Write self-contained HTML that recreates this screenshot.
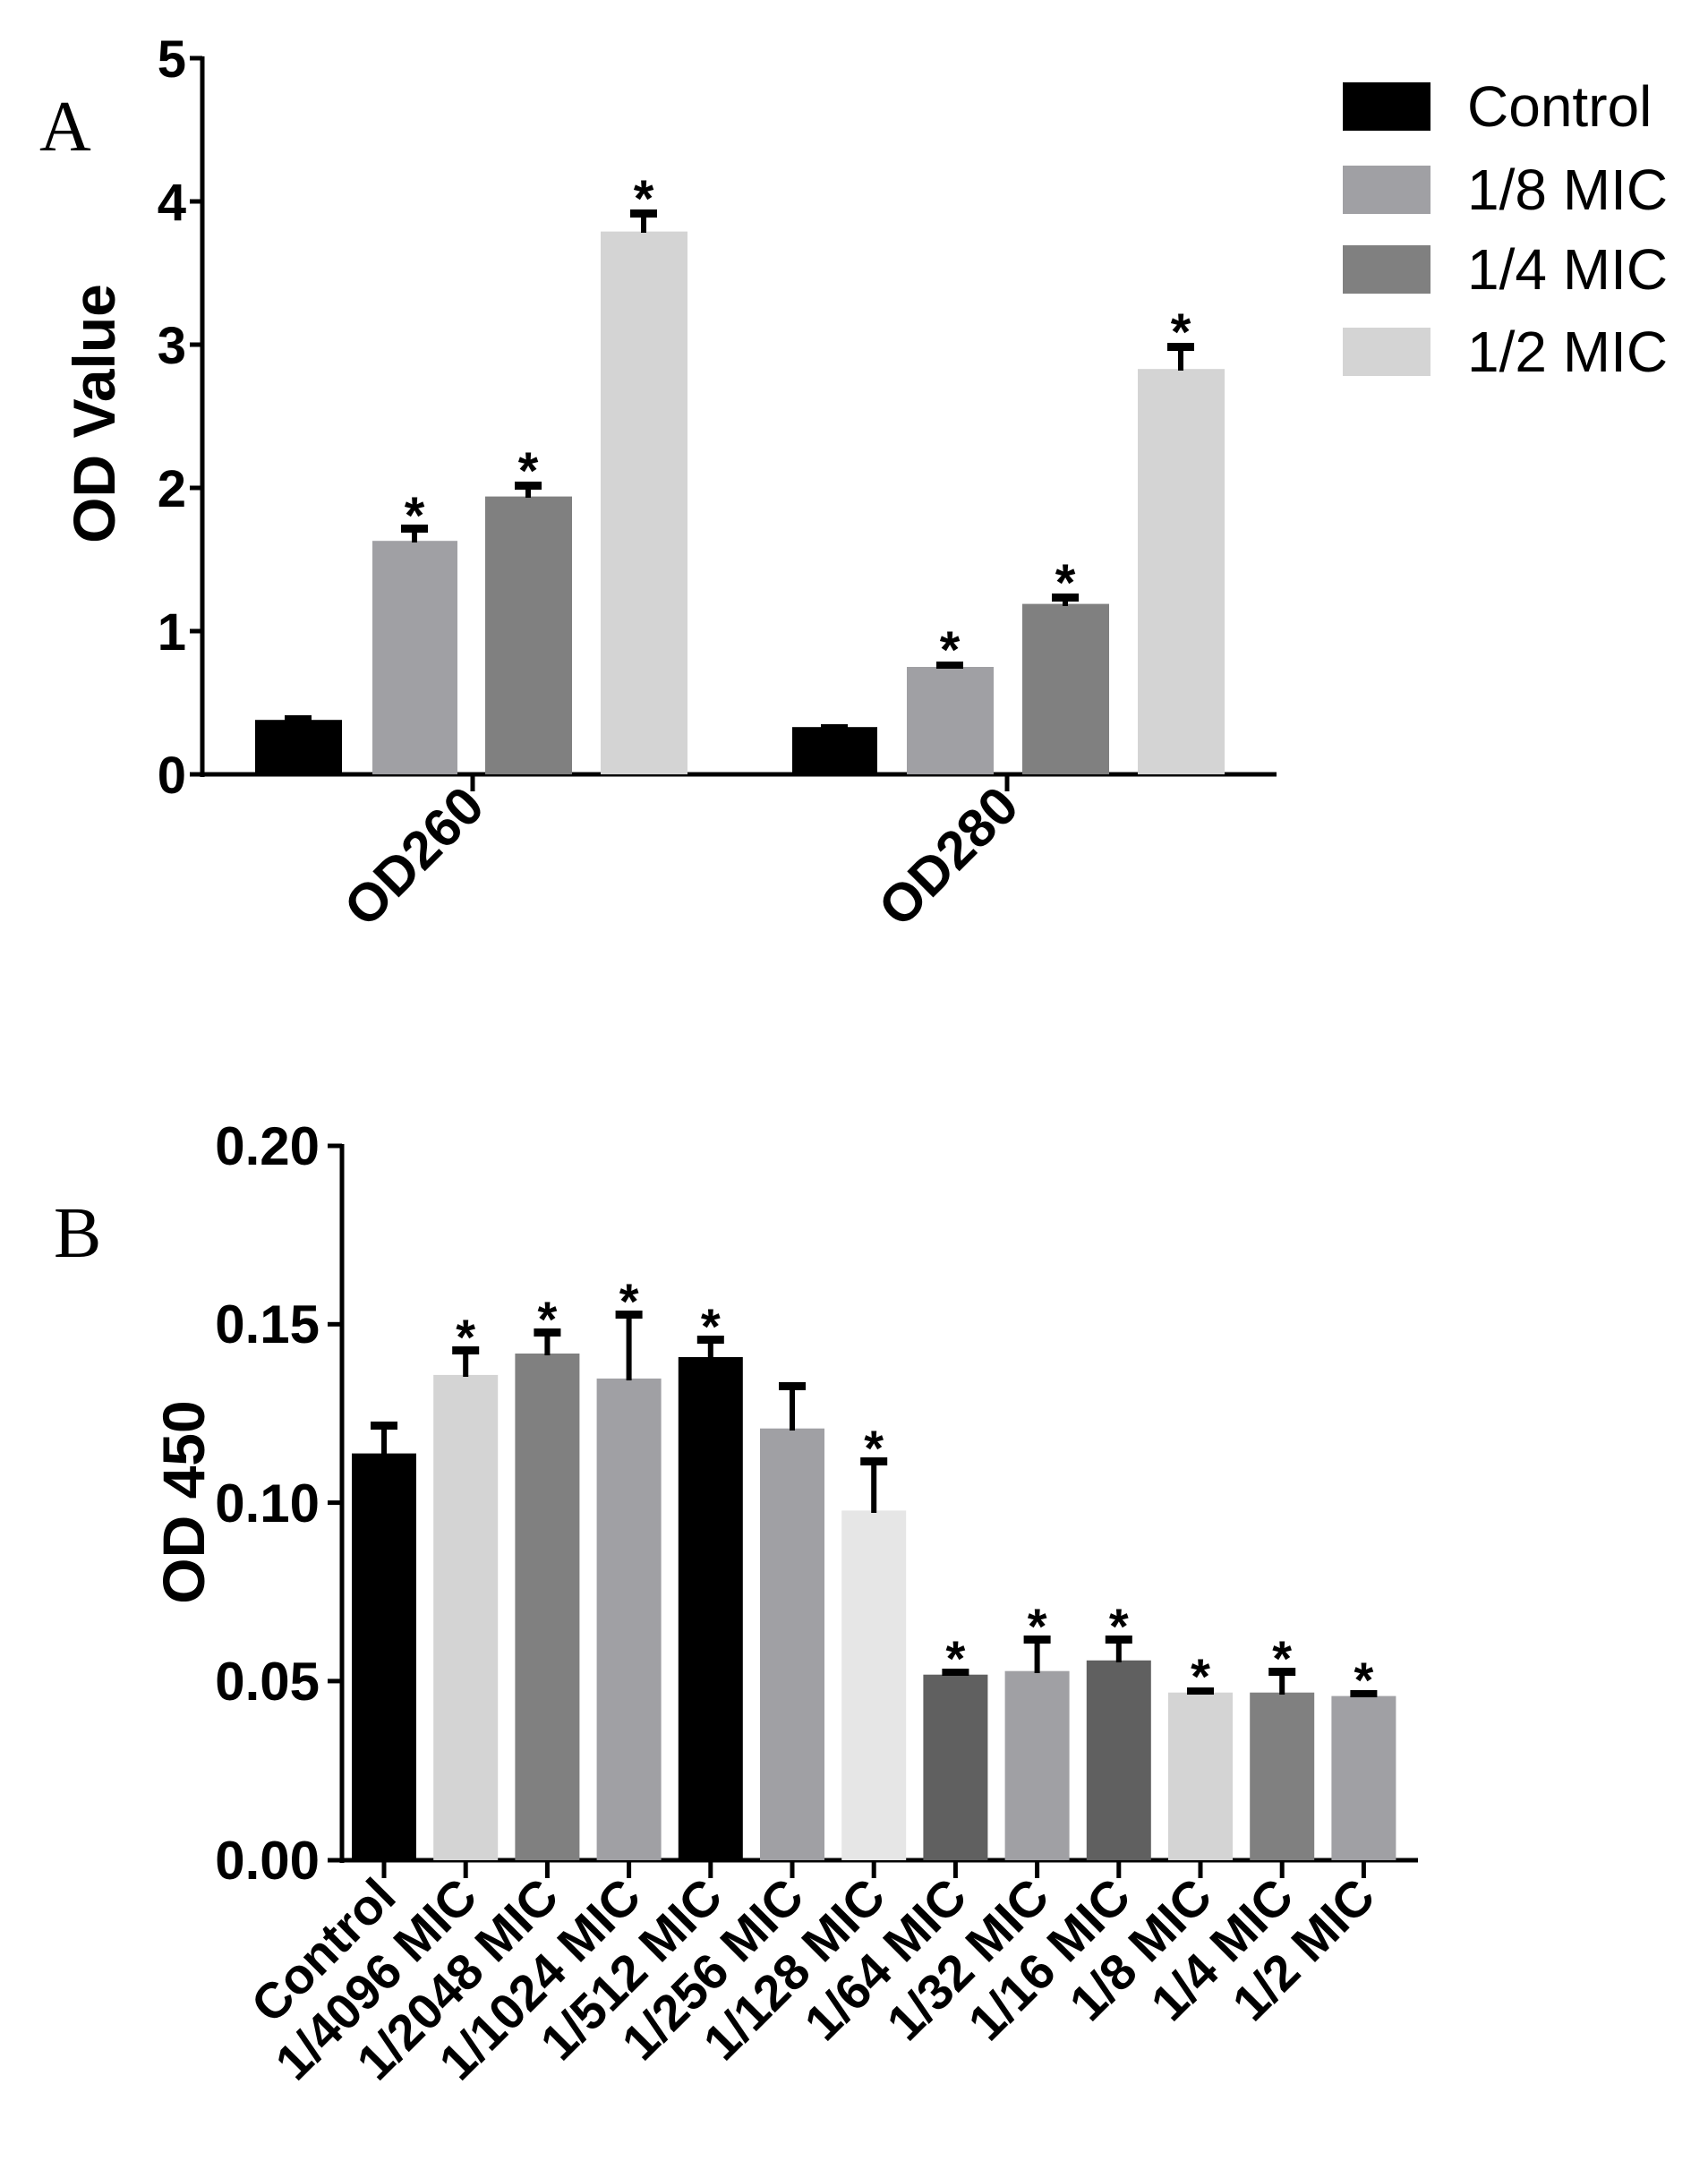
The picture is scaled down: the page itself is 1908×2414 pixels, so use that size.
<!DOCTYPE html>
<html><head><meta charset="utf-8"><style>
html,body{margin:0;padding:0;background:#fff;}
svg{display:block;}
text{font-family:"Liberation Sans",Arial,sans-serif;}
.b{font-weight:bold;}
</style></head><body>
<svg width="1908" height="2414" viewBox="0 0 1908 2414" xmlns="http://www.w3.org/2000/svg">
<!-- Panel A -->
<text x="44" y="168" font-size="80" style="font-family:'Liberation Serif',serif">A</text>
<text class="b" font-size="66" transform="translate(128,462) rotate(-90)" text-anchor="middle">OD Value</text>
<g class="b" font-size="58" text-anchor="end">
<text x="208" y="86">5</text><text x="208" y="246">4</text><text x="208" y="406">3</text>
<text x="208" y="566">2</text><text x="208" y="726">1</text><text x="208" y="886">0</text>
</g>
<g stroke="#000" stroke-width="5">
<line x1="226" y1="63" x2="226" y2="868"/>
<line x1="224" y1="865" x2="1426" y2="865"/>
<line x1="212" y1="65" x2="226" y2="65"/><line x1="212" y1="225" x2="226" y2="225"/>
<line x1="212" y1="385" x2="226" y2="385"/><line x1="212" y1="545" x2="226" y2="545"/>
<line x1="212" y1="705" x2="226" y2="705"/><line x1="212" y1="865" x2="226" y2="865"/>
<line x1="528" y1="865" x2="528" y2="884"/><line x1="1125" y1="865" x2="1125" y2="884"/>
</g>
<g>
<rect x="285" y="804.2" width="97" height="60.8" fill="#000"/>
<rect x="416" y="604.2" width="95" height="260.8" fill="#a0a0a4"/>
<rect x="542" y="554.6" width="97" height="310.4" fill="#808080"/>
<rect x="671" y="258.6" width="97" height="606.4" fill="#d4d4d4"/>
<rect x="885" y="812.2" width="95" height="52.8" fill="#000"/>
<rect x="1013" y="745" width="97" height="120" fill="#a0a0a4"/>
<rect x="1142" y="674.6" width="97" height="190.4" fill="#808080"/>
<rect x="1271" y="412.2" width="97" height="452.8" fill="#d4d4d4"/>
</g>
<g fill="#000">
<rect x="318" y="799" width="30" height="7"/>
<rect x="460" y="590" width="6" height="16"/><rect x="448" y="586" width="30" height="9"/>
<rect x="587" y="542" width="6" height="14"/><rect x="575" y="538" width="30" height="9"/>
<rect x="716" y="238" width="6" height="22"/><rect x="704" y="234" width="30" height="9"/>
<rect x="917" y="809" width="30" height="5"/>
<rect x="1046" y="739" width="30" height="8"/>
<rect x="1187" y="667" width="6" height="10"/><rect x="1175" y="663" width="30" height="9"/>
<rect x="1316" y="387" width="6" height="27"/><rect x="1304" y="383" width="30" height="9"/>
</g>
<g class="b" font-size="58" text-anchor="middle">
<text x="463" y="596">*</text><text x="590" y="546">*</text><text x="719" y="242">*</text>
<text x="1061" y="746">*</text><text x="1190" y="671">*</text><text x="1319" y="391">*</text>
</g>
<g class="b" font-size="60" text-anchor="end">
<text transform="translate(544,904) rotate(-45)">OD260</text>
<text transform="translate(1141,904) rotate(-45)">OD280</text>
</g>
<!-- legend -->
<rect x="1500" y="92" width="98" height="54" fill="#000"/>
<rect x="1500" y="185" width="98" height="54" fill="#a0a0a4"/>
<rect x="1500" y="274" width="98" height="54" fill="#808080"/>
<rect x="1500" y="366" width="98" height="54" fill="#d4d4d4"/>
<g font-size="64">
<text x="1639" y="141">Control</text><text x="1639" y="234">1/8 MIC</text>
<text x="1639" y="323">1/4 MIC</text><text x="1639" y="415">1/2 MIC</text>
</g>
<!-- Panel B -->
<text x="60" y="1404" font-size="80" style="font-family:'Liberation Serif',serif">B</text>
<text class="b" font-size="66" transform="translate(228,1678) rotate(-90)" text-anchor="middle">OD 450</text>
<g class="b" font-size="60" text-anchor="end">
<text x="357" y="1301">0.20</text><text x="357" y="1500">0.15</text><text x="357" y="1700">0.10</text>
<text x="357" y="1899">0.05</text><text x="357" y="2099">0.00</text>
</g>
<g stroke="#000" stroke-width="5">
<line x1="382" y1="1278" x2="382" y2="2081"/>
<line x1="380" y1="2078" x2="1584" y2="2078"/>
<line x1="366" y1="1280" x2="382" y2="1280"/><line x1="366" y1="1479.3" x2="382" y2="1479.3"/>
<line x1="366" y1="1678.6" x2="382" y2="1678.6"/><line x1="366" y1="1877.9" x2="382" y2="1877.9"/>
<line x1="366" y1="2078" x2="382" y2="2078"/>
<line x1="429" y1="2078" x2="429" y2="2098"/><line x1="520.2" y1="2078" x2="520.2" y2="2098"/>
<line x1="611.4" y1="2078" x2="611.4" y2="2098"/><line x1="702.6" y1="2078" x2="702.6" y2="2098"/>
<line x1="793.8" y1="2078" x2="793.8" y2="2098"/><line x1="885" y1="2078" x2="885" y2="2098"/>
<line x1="976.2" y1="2078" x2="976.2" y2="2098"/><line x1="1067.4" y1="2078" x2="1067.4" y2="2098"/>
<line x1="1158.6" y1="2078" x2="1158.6" y2="2098"/><line x1="1249.8" y1="2078" x2="1249.8" y2="2098"/>
<line x1="1341" y1="2078" x2="1341" y2="2098"/><line x1="1432.2" y1="2078" x2="1432.2" y2="2098"/>
<line x1="1523.4" y1="2078" x2="1523.4" y2="2098"/>
</g>
<g>
<rect x="393" y="1623.6" width="72" height="454.4" fill="#000"/>
<rect x="484.2" y="1535.9" width="72" height="542.1" fill="#d4d4d4"/>
<rect x="575.4" y="1512" width="72" height="566" fill="#808080"/>
<rect x="666.6" y="1539.9" width="72" height="538.1" fill="#a0a0a4"/>
<rect x="757.8" y="1516" width="72" height="562" fill="#000"/>
<rect x="849" y="1595.7" width="72" height="482.3" fill="#a0a0a4"/>
<rect x="940.2" y="1687.4" width="72" height="390.6" fill="#e6e6e6"/>
<rect x="1031.4" y="1870.7" width="72" height="207.3" fill="#606060"/>
<rect x="1122.6" y="1866.7" width="72" height="211.3" fill="#a0a0a4"/>
<rect x="1213.8" y="1854.8" width="72" height="223.2" fill="#606060"/>
<rect x="1305" y="1890.7" width="72" height="187.3" fill="#d4d4d4"/>
<rect x="1396.2" y="1890.7" width="72" height="187.3" fill="#808080"/>
<rect x="1487.4" y="1894.6" width="72" height="183.4" fill="#a0a0a4"/>
</g>
<g fill="#000">
<rect x="426" y="1592" width="6" height="34"/><rect x="414" y="1588" width="30" height="9"/>
<rect x="517.2" y="1508" width="6" height="30"/><rect x="505.2" y="1504" width="30" height="9"/>
<rect x="608.4" y="1488" width="6" height="26"/><rect x="596.4" y="1484" width="30" height="9"/>
<rect x="699.6" y="1468" width="6" height="74"/><rect x="687.6" y="1464" width="30" height="9"/>
<rect x="790.8" y="1496" width="6" height="22"/><rect x="778.8" y="1492" width="30" height="9"/>
<rect x="882" y="1548" width="6" height="50"/><rect x="870" y="1544" width="30" height="9"/>
<rect x="973.2" y="1632" width="6" height="58"/><rect x="961.2" y="1628" width="30" height="9"/>
<rect x="1052.4" y="1864" width="30" height="8"/>
<rect x="1155.6" y="1831" width="6" height="38"/><rect x="1143.6" y="1827" width="30" height="9"/>
<rect x="1246.8" y="1831" width="6" height="26"/><rect x="1234.8" y="1827" width="30" height="9"/>
<rect x="1326" y="1885" width="30" height="8"/>
<rect x="1429.2" y="1867" width="6" height="26"/><rect x="1417.2" y="1863" width="30" height="9"/>
<rect x="1508.4" y="1888" width="30" height="8"/>
</g>
<g class="b" font-size="56" text-anchor="middle">
<text x="520.2" y="1513">*</text><text x="611.4" y="1493">*</text><text x="702.6" y="1473">*</text>
<text x="793.8" y="1501">*</text><text x="976.2" y="1637">*</text><text x="1067.4" y="1872">*</text>
<text x="1158.6" y="1836">*</text><text x="1249.8" y="1836">*</text><text x="1341" y="1892">*</text>
<text x="1432.2" y="1872">*</text><text x="1523.4" y="1896">*</text>
</g>
<g class="b" font-size="56" text-anchor="end">
<text transform="translate(445,2122) rotate(-45)">Control</text>
<text transform="translate(536,2122) rotate(-45)">1/4096 MIC</text>
<text transform="translate(627,2122) rotate(-45)">1/2048 MIC</text>
<text transform="translate(719,2122) rotate(-45)">1/1024 MIC</text>
<text transform="translate(810,2122) rotate(-45)">1/512 MIC</text>
<text transform="translate(901,2122) rotate(-45)">1/256 MIC</text>
<text transform="translate(992,2122) rotate(-45)">1/128 MIC</text>
<text transform="translate(1083,2122) rotate(-45)">1/64 MIC</text>
<text transform="translate(1175,2122) rotate(-45)">1/32 MIC</text>
<text transform="translate(1266,2122) rotate(-45)">1/16 MIC</text>
<text transform="translate(1357,2122) rotate(-45)">1/8 MIC</text>
<text transform="translate(1448,2122) rotate(-45)">1/4 MIC</text>
<text transform="translate(1539,2122) rotate(-45)">1/2 MIC</text>
</g>
</svg>
</body></html>
